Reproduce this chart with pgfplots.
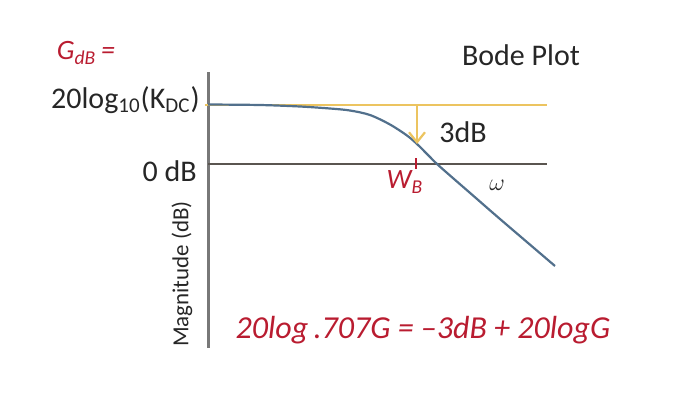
\documentclass[border=0pt]{standalone}
\usepackage{pgfplots}
\pgfplotsset{compat=1.18}
\usepackage{fontspec}
\setmainfont{Carlito}
\usetikzlibrary{arrows.meta}
\definecolor{bodeyellow}{RGB}{236,196,96}
\definecolor{bodeblue}{RGB}{82,112,140}
\definecolor{axgray}{RGB}{120,120,120}
\definecolor{zerogray}{RGB}{90,85,80}
\definecolor{pen}{RGB}{185,28,48}
\begin{document}
\begin{tikzpicture}
\begin{axis}[
  scale only axis,
  width=342pt, height=204pt,
  xmin=0, xmax=684, ymin=0, ymax=408,
  y dir=reverse,
  hide axis,
  clip=false,
]
\path (rel axis cs:0,0) rectangle (rel axis cs:1,1);
% vertical magnitude axis
\addplot[axgray, line width=1.5pt] coordinates {(208,72) (208,348)};
% 0 dB line
\addplot[zerogray, line width=1.2pt] coordinates {(208,164) (547,164)};
% 20log10(KDC) level
\addplot[bodeyellow, line width=1.2pt] coordinates {(205,105) (547,105)};
% magnitude response
\addplot[bodeblue, line width=1.1pt, smooth, tension=0.5] coordinates {
  (208,104.5) (260,105) (300,106.5) (330,108.5) (350,110.5) (370,115)
  (390,124.5) (407,135.5) (417,144) (428,155) (437,164) (450,175.5)
  (473,195.5) (500,219) (555,266)};
% 3 dB arrow
\addplot[bodeyellow, line width=1.1pt, -{Straight Barb[length=5pt,width=8pt]}] coordinates {(417,105) (417,144)};
% omega_B tick
\addplot[pen, line width=1pt] coordinates {(416,158) (416,169)};
% texts
\node[font=\fontsize{15}{18}\selectfont, text=black!85] at (axis cs:521,55) {Bode Plot};
\node[font=\fontsize{15}{18}\selectfont, text=black!85, anchor=east, inner sep=0pt] at (axis cs:200,100) {20log\textsubscript{10}(K\textsubscript{DC})};
\node[font=\fontsize{15}{18}\selectfont, text=black!85, anchor=east, inner sep=0pt] at (axis cs:197,171) {0 dB};
\node[font=\fontsize{15}{18}\selectfont, text=black!85] at (axis cs:463,132) {3dB};
\node[text=black!85, font=\fontsize{13}{15}\selectfont] at (axis cs:497,185) {$\omega$};
\node[rotate=90, font=\fontsize{11.5}{14}\selectfont, text=black!85] at (axis cs:182,274) {Magnitude (dB)};
% handwritten annotations
\node[text=pen, font=\fontsize{14}{16}\selectfont\itshape] at (axis cs:86,53) {G\textsubscript{dB}\,=};
\node[text=pen, font=\fontsize{14}{16}\selectfont\itshape] at (axis cs:405,182) {W\textsubscript{B}};
\node[text=pen, font=\fontsize{16}{18}\selectfont\itshape] at (axis cs:423,330) {20log\,.707G = \textendash3dB + 20logG};
\end{axis}
\end{tikzpicture}
\end{document}
